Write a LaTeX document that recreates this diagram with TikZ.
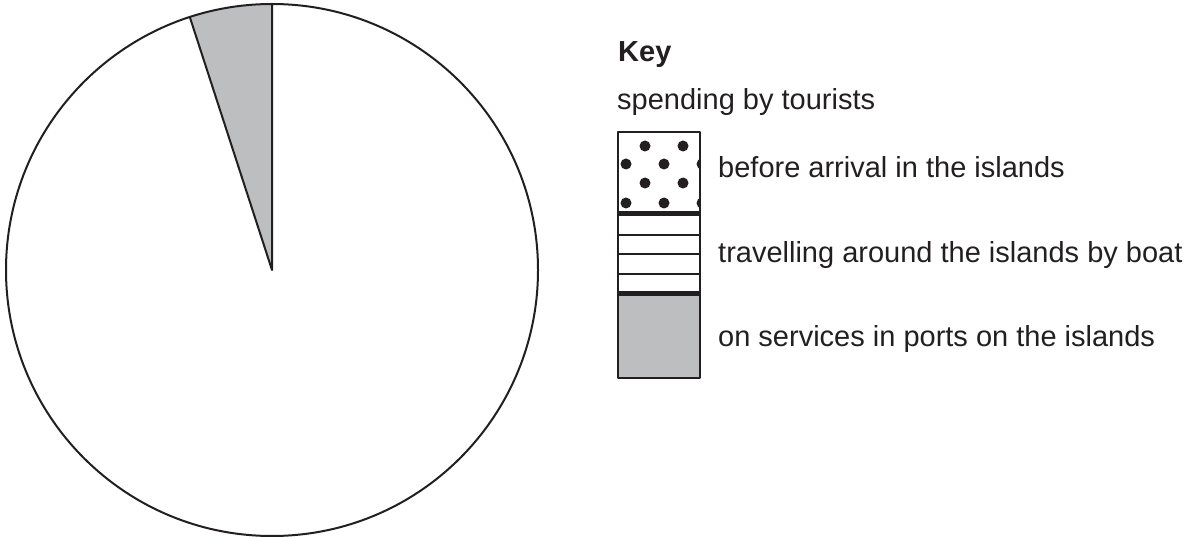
\documentclass[tikz,border=0pt]{standalone}
\usepackage{fontspec}
\setmainfont{Liberation Sans}
\usetikzlibrary{calc}
\definecolor{pgray}{HTML}{BCBEC0}
\definecolor{ink}{HTML}{231F20}
\begin{document}
\begin{tikzpicture}[x=1pt,y=-1pt,
  lbl/.style={anchor=base west, inner sep=0pt, font=\fontsize{29}{34}\selectfont, text=ink},
  outline/.style={draw=ink, line width=2pt, line join=round},
  thinbar/.style={draw=ink, line width=2.7pt},
  thickbar/.style={draw=ink, line width=5pt},
  dot/.style={fill=ink}]
\useasboundingbox (0,0) rectangle (1195,537);
% pie chart
\coordinate (c) at (272,270);
\coordinate (top) at (272,4);
\fill[pgray] (c) -- (top) arc[start angle=-90, end angle=-108, radius=266] -- cycle;
\draw[outline] (c) circle[radius=266];
\draw[outline] (top) -- (c) -- ($(c)+(-108:266)$);
% key
\node[lbl, font=\fontsize{29}{34}\selectfont\bfseries] (key) at (618,62) {Key};
\node[lbl] (spend) at (617,110) {spending by tourists};
% key box
\fill[pgray] (618,294) rectangle (700,378);
\begin{scope}
  \clip (618,132) rectangle (700,214);
  \foreach \yy in {146,183} {
    \foreach \xx in {607,645,683} { \fill[dot] (\xx,\yy) circle[radius=5.5]; }
  }
  \foreach \yy in {164,203} {
    \foreach \xx in {626,664,702} { \fill[dot] (\xx,\yy) circle[radius=5.5]; }
  }
\end{scope}
\foreach \yy in {235,254,274} { \draw[thinbar] (618,\yy) -- (700,\yy); }
\draw[thickbar] (618,214) -- (700,214);
\draw[thickbar] (618,294) -- (700,294);
\draw[outline] (618,132) rectangle (700,378);
\node[lbl] (before) at (718,178) {before arrival in the islands};
\node[lbl] (boat) at (718,263) {travelling around the islands by boat};
\node[lbl] (ports) at (718,347) {on services in ports on the islands};
\end{tikzpicture}
\end{document}
